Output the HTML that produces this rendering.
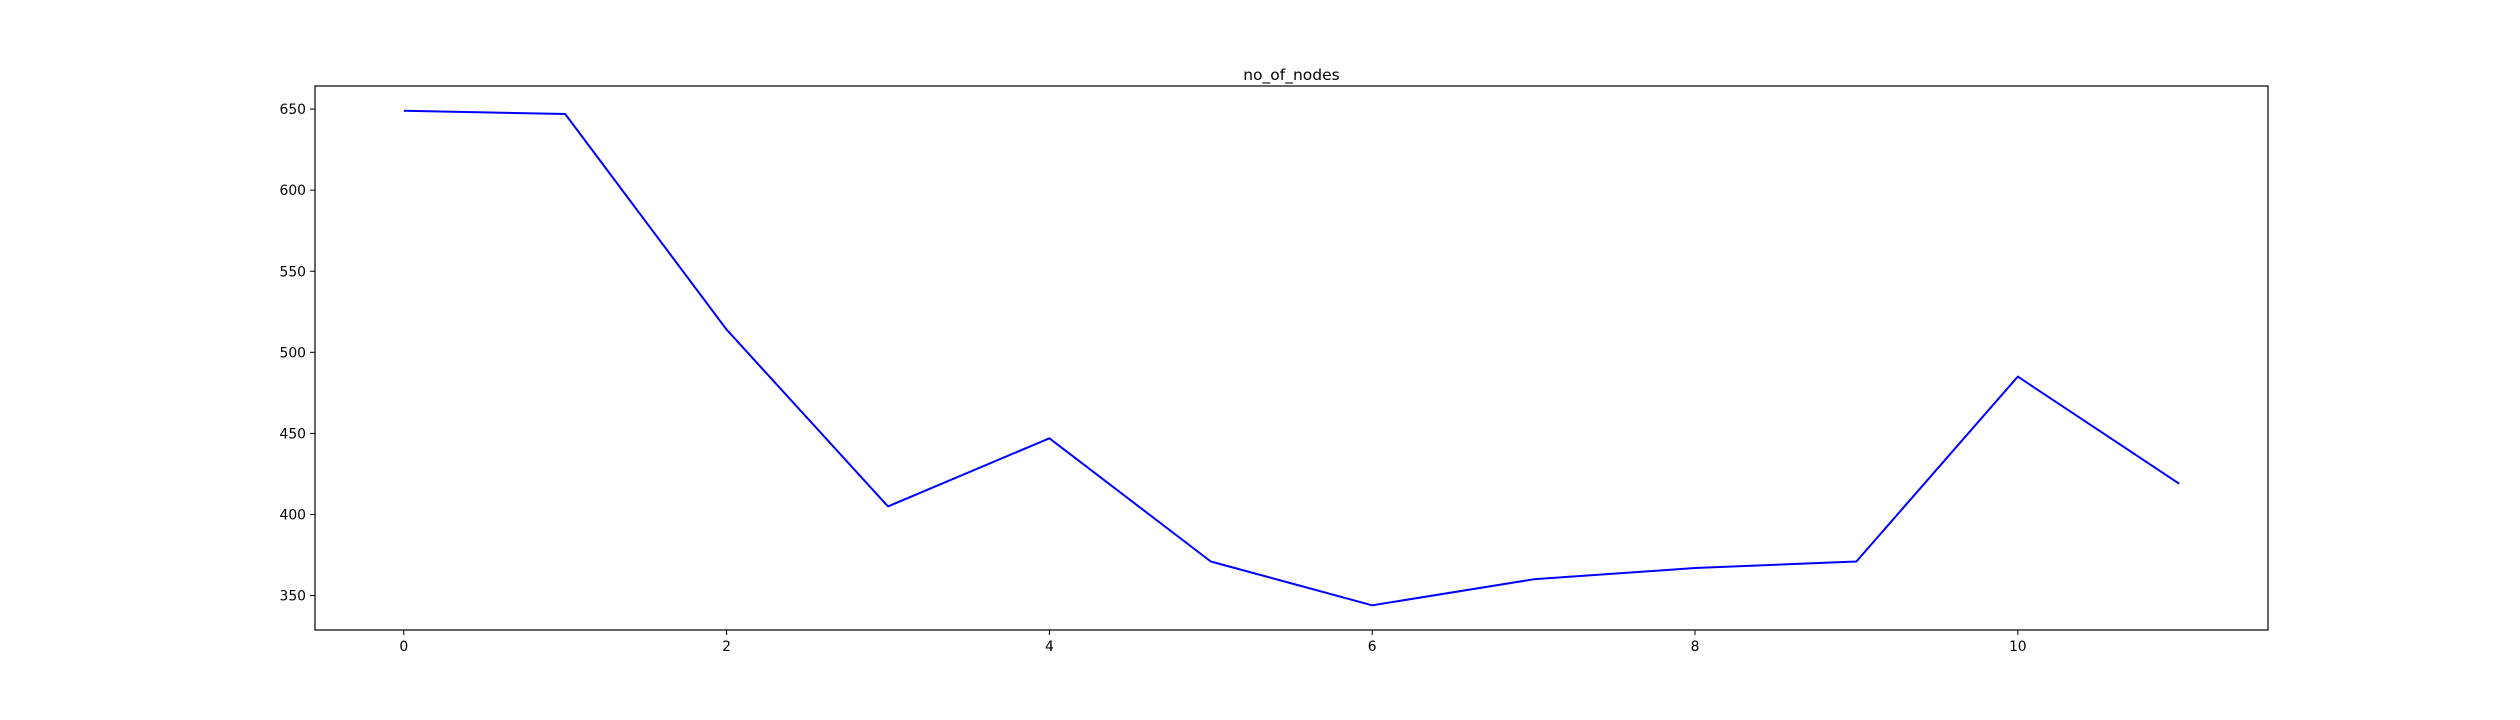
<!DOCTYPE html>
<html><head><meta charset="utf-8"><style>
html,body{margin:0;padding:0;background:#fff;}
svg{display:block;font-family:"DejaVu Sans","Liberation Sans",sans-serif;}
</style></head><body>
<svg id="chart" width="2520" height="720"></svg>
<script>
const categories=[0,1,2,3,4,5,6,7,8,9,10,11];
const nodeValues=[649,647,514,405,447,371,344,360,367,371,485,419];
const xTickLabels=[0,2,4,6,8,10];
const yTickLabels=[350,400,450,500,550,600,650];
const chartTitle='no_of_nodes';

const NS='http://www.w3.org/2000/svg';
const svg=document.getElementById('chart');
const L=315,R=2268,T=86,B=630;
const xmin=-0.55,xmax=11.55;
const dmin=Math.min(...nodeValues),dmax=Math.max(...nodeValues);
const pad=(dmax-dmin)*0.05;
const ymin=dmin-pad,ymax=dmax+pad;
function sx(v){return L+(v-xmin)/(xmax-xmin)*(R-L);}
function sy(v){return B-(v-ymin)/(ymax-ymin)*(B-T);}
function el(tag,attrs){const e=document.createElementNS(NS,tag);for(const k in attrs)e.setAttribute(k,attrs[k]);svg.appendChild(e);return e;}

const title=el('text',{x:(L+R)/2,y:T-6,'text-anchor':'middle','font-size':'15.5',fill:'#000'});
title.textContent=chartTitle;



xTickLabels.forEach(v=>{
  const x=sx(v);
  const t=el('line',{x1:x,x2:x,y1:B,y2:B+5,stroke:'#000','stroke-width':1});
  
  
  const lb=el('text',{x:x,y:B+21,'text-anchor':'middle','font-size':'13.9',fill:'#000'});
  lb.textContent=v;
  
  
});
yTickLabels.forEach(v=>{
  const y=sy(v);
  const t=el('line',{x1:L-5,x2:L,y1:y,y2:y,stroke:'#000','stroke-width':1});
  
  
  const lb=el('text',{x:L-9,y:y+5,'text-anchor':'end','font-size':'13.9',fill:'#000'});
  lb.textContent=v;
  
  
});

const pts=categories.map((c,i)=>sx(c).toFixed(1)+','+sy(nodeValues[i]).toFixed(1)).join(' ');
const line=el('polyline',{points:pts,fill:'none',stroke:'#0000ff','stroke-width':2,'stroke-linejoin':'round'});



const frame=el('rect',{x:L,y:T,width:R-L,height:B-T,fill:'none',stroke:'#000','stroke-width':1.2});


</script>
</body></html>
